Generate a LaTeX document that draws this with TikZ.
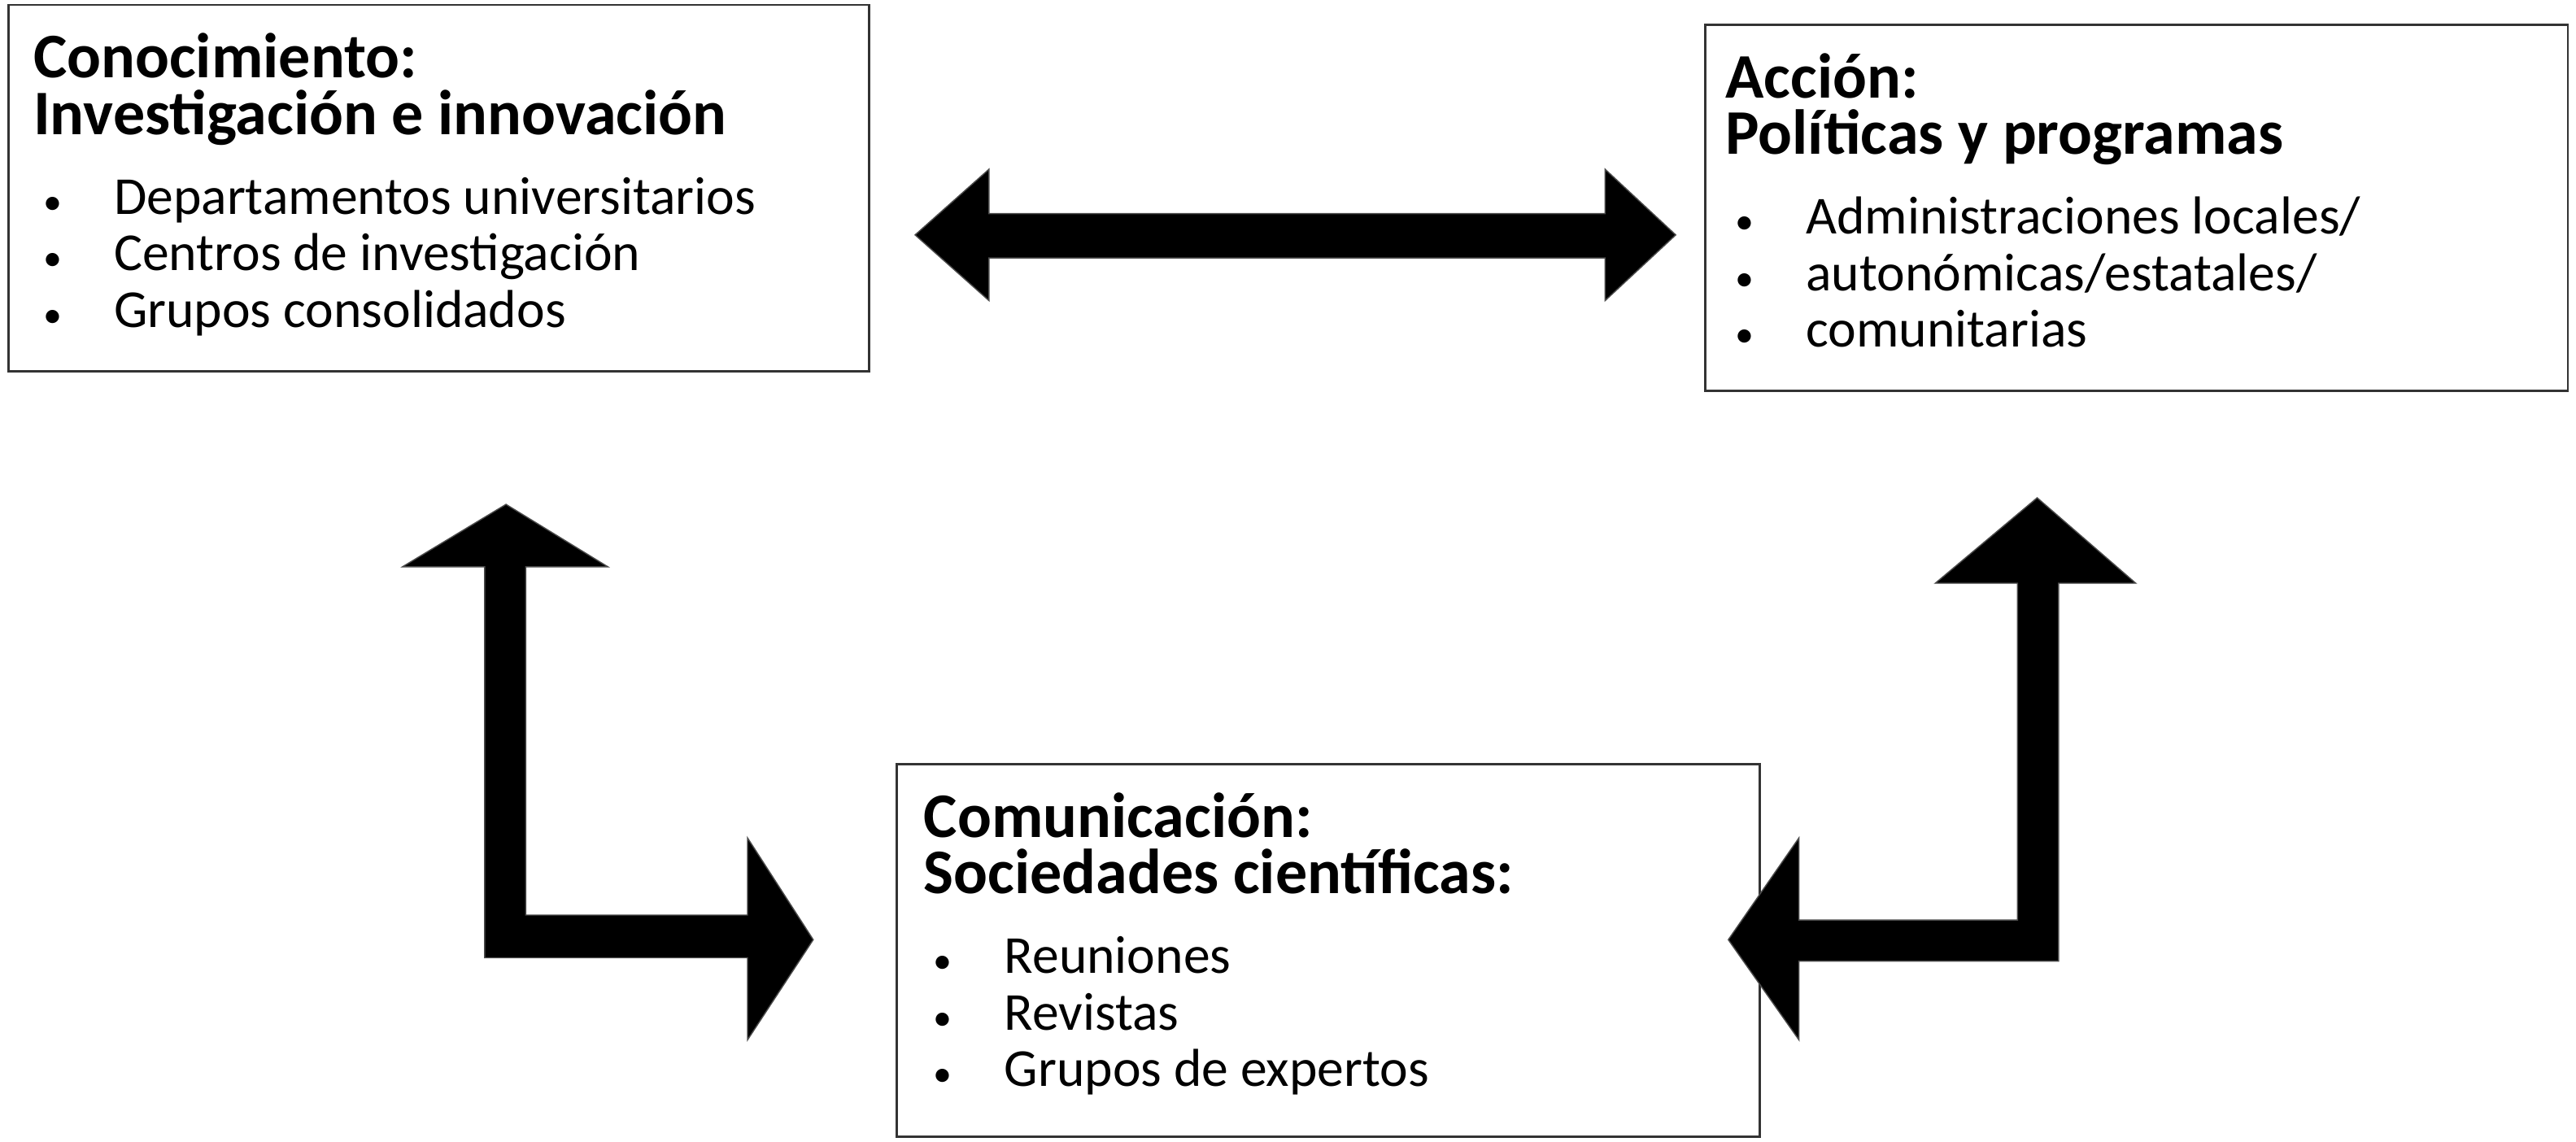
\documentclass[tikz,border=0pt]{standalone}
\usepackage{fontspec}
\setmainfont{Carlito}
\usetikzlibrary{positioning}
\tikzset{
    box/.style={draw=black!80,thick,fill=white},
    boxtext/.style={anchor=north west,inner sep=0pt,align=left,font=\fontsize{18.5}{19.6}\selectfont},
    block arrow/.style={fill=black,draw=black!70,thin},
}
\newcommand{\ttl}[1]{{\fontsize{22}{30}\selectfont\bfseries #1}}
\newcommand{\itm}[1]{\hspace*{0.12cm}\makebox[0.86cm][l]{\scalebox{0.7}{\textbullet}}#1}
\begin{document}
\begin{tikzpicture}[x=0.02cm,y=-0.02cm]
    \useasboundingbox (0,0) rectangle (1568,695);
    % boxes
    \draw[box] (5,3) rectangle (529,226);
    \draw[box] (1038,15) rectangle (1563,238);
    \draw[box] (546,465) rectangle (1071,692);
    \node[boxtext] (know) at (20,20) {\ttl{Conocimiento:}\\\ttl{Investigación e innovación}\\[8pt]
        \itm{Departamentos universitarios}\\ \itm{Centros de investigación}\\ \itm{Grupos consolidados}};
    \node[boxtext] (act) at (1050,32) {\ttl{Acción:}\\\ttl{Políticas y programas}\\[8pt]
        \itm{Administraciones locales/}\\ \itm{autonómicas/estatales/}\\ \itm{comunitarias}};
    \node[boxtext] (comm) at (562,482) {\ttl{Comunicación:}\\\ttl{Sociedades científicas:}\\[8pt]
        \itm{Reuniones}\\ \itm{Revistas}\\ \itm{Grupos de expertos}};
    % arrows
    \fill[block arrow] (557,143) -- (602,103) -- (602,130) -- (977,130) -- (977,103) -- (1020,143)
        -- (977,183) -- (977,157) -- (602,157) -- (602,183) -- cycle;
    \fill[block arrow] (308,307) -- (370,345) -- (320,345) -- (320,557) -- (455,557) -- (455,510)
        -- (495,572) -- (455,633) -- (455,583) -- (295,583) -- (295,345) -- (245,345) -- cycle;
    \fill[block arrow] (1240,303) -- (1300,355) -- (1253,355) -- (1253,585) -- (1095,585) -- (1095,633)
        -- (1052,572) -- (1095,510) -- (1095,560) -- (1228,560) -- (1228,355) -- (1178,355) -- cycle;
\end{tikzpicture}
\end{document}
